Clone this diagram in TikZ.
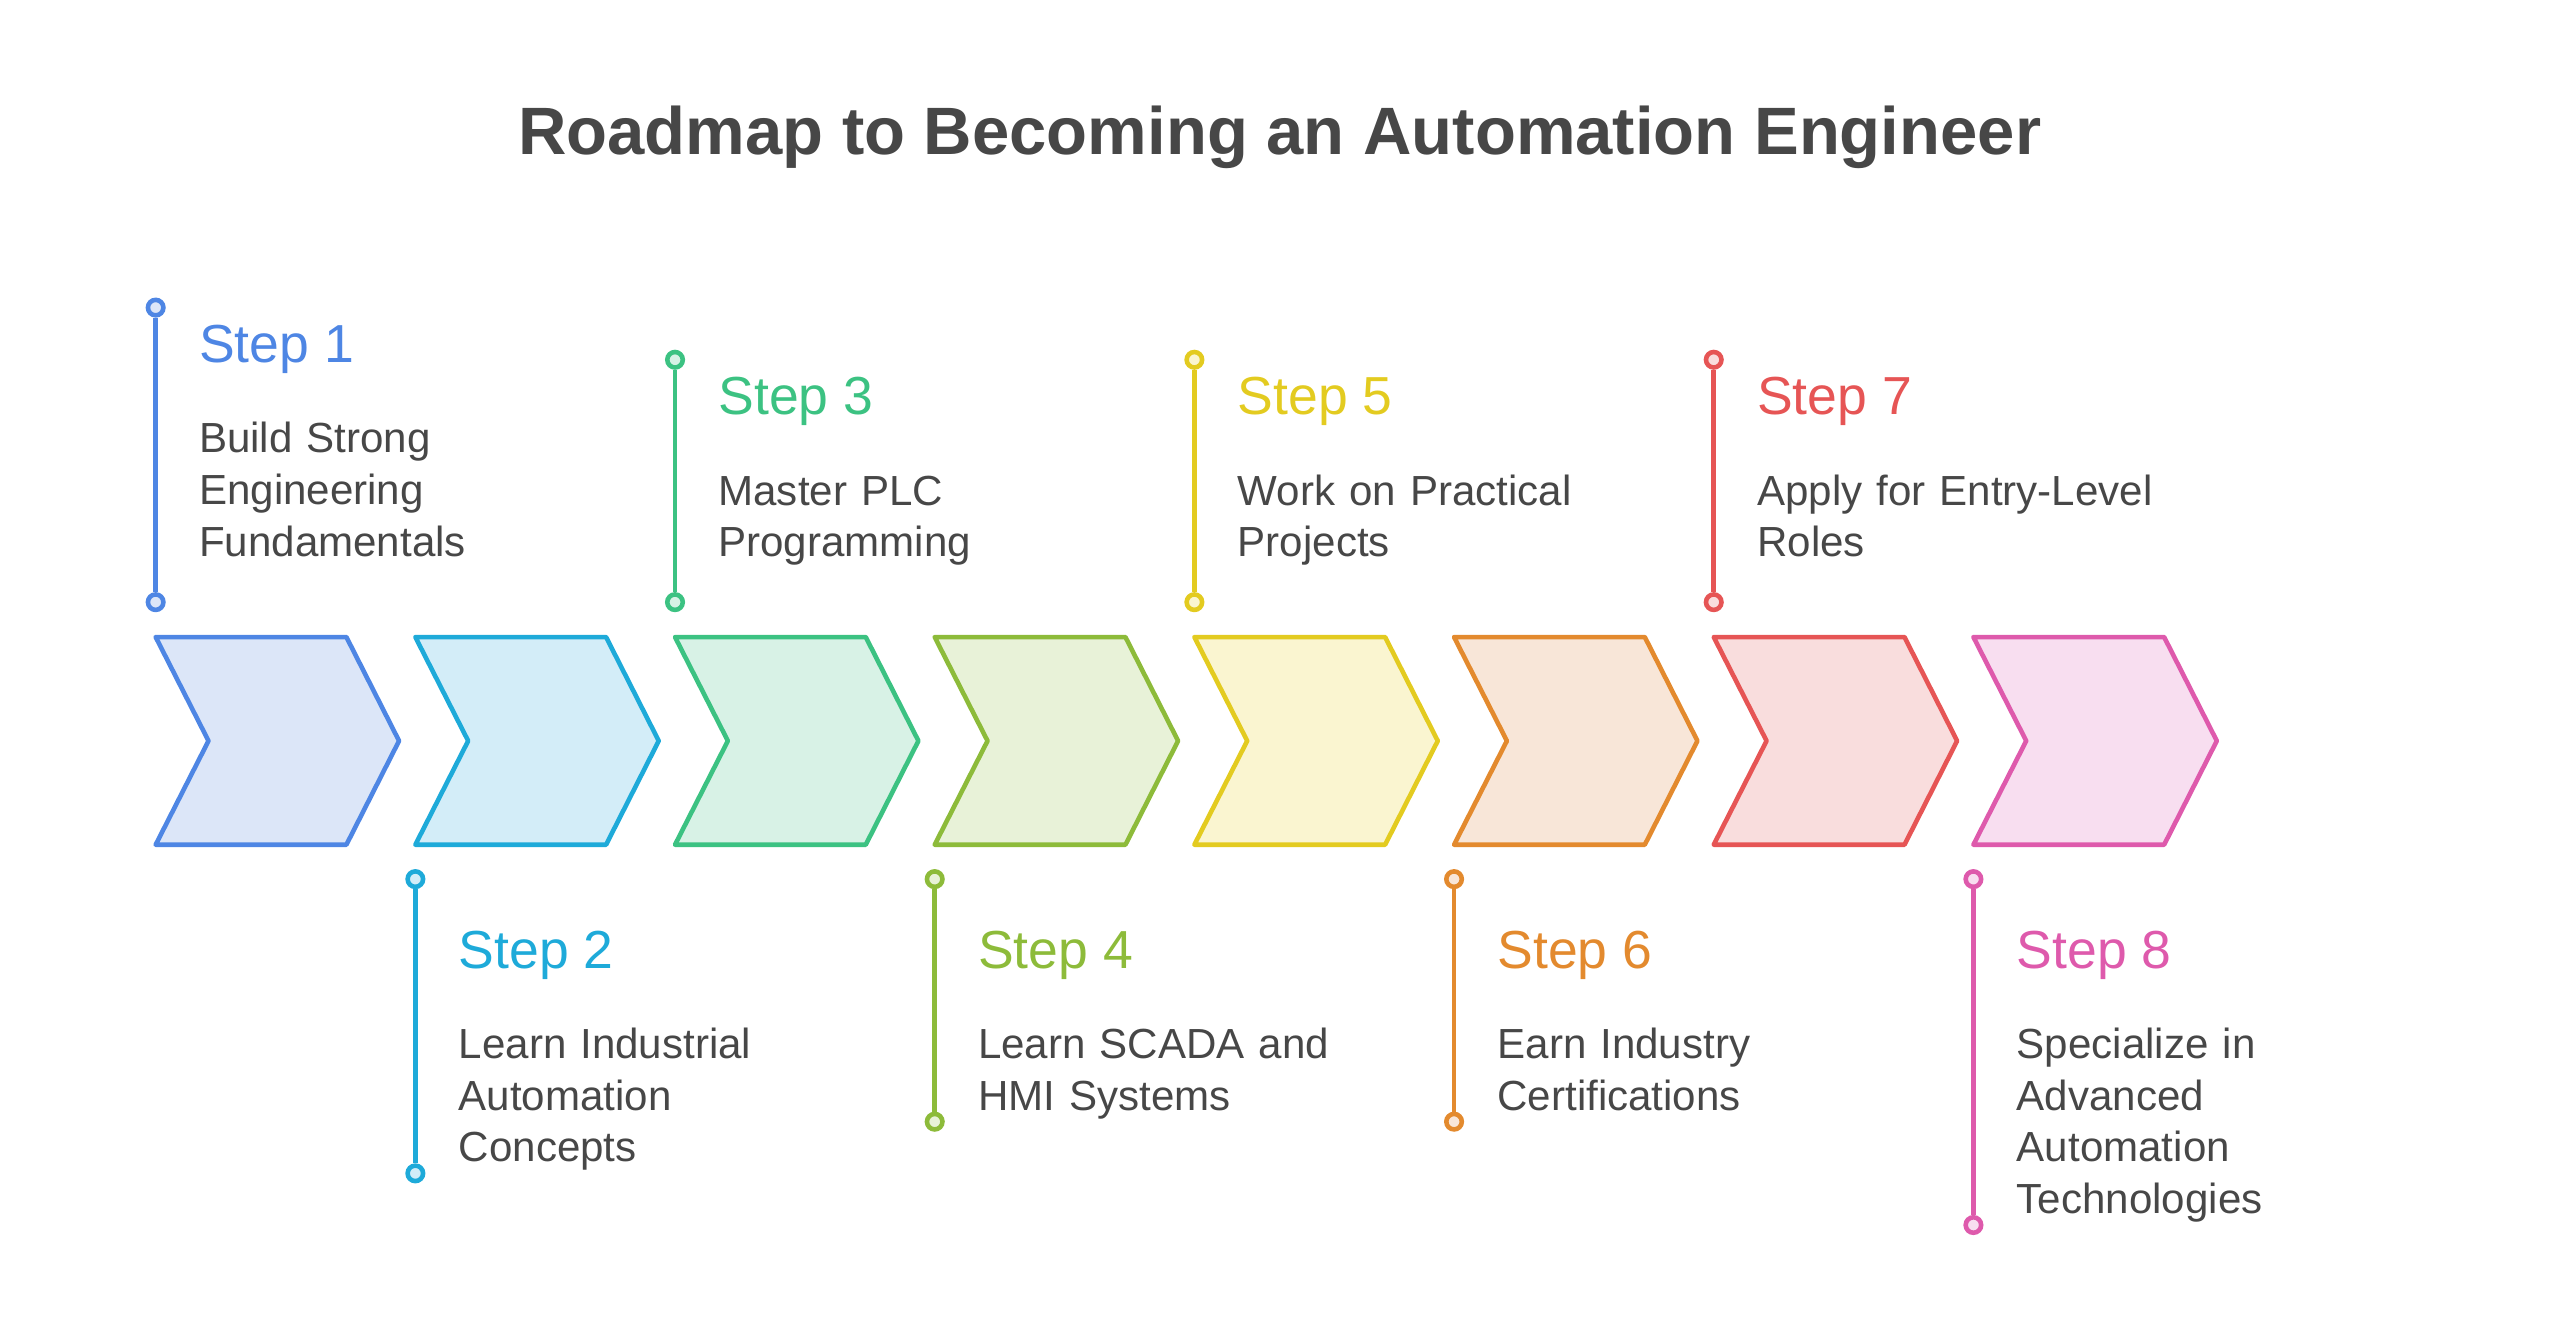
\documentclass[tikz,border=0pt]{standalone}
\usepackage{fontspec}
\setmainfont{Liberation Sans}
\usepackage{xcolor}
\definecolor{ink}{HTML}{474747}
\definecolor{st1}{HTML}{4E86E4}\definecolor{bg1}{HTML}{DCE6F8}
\definecolor{st2}{HTML}{1EAAD9}\definecolor{bg2}{HTML}{D3EDF8}
\definecolor{st3}{HTML}{3CC282}\definecolor{bg3}{HTML}{D8F2E6}
\definecolor{st4}{HTML}{8DBB3A}\definecolor{bg4}{HTML}{E8F2D8}
\definecolor{st5}{HTML}{E3CB20}\definecolor{bg5}{HTML}{FAF5D0}
\definecolor{st6}{HTML}{E38A2E}\definecolor{bg6}{HTML}{F8E6D8}
\definecolor{st7}{HTML}{E65555}\definecolor{bg7}{HTML}{F9DDDD}
\definecolor{st8}{HTML}{DE5AAC}\definecolor{bg8}{HTML}{F8DEF0}
\usepackage{tikz}

\tikzset{
  heading/.style={anchor=base, inner sep=0pt, text=ink, font=\fontsize{23.4}{28}\selectfont\bfseries},
  chevron/.style={line width=1.6pt, line join=round, draw=st#1, fill=bg#1},
  knob/.style={circle, inner sep=0pt, minimum size=0.19cm, line width=1.6pt, draw=st#1, fill=bg#1},
  stem/.style={line width=1.6pt, draw=st#1},
  steptitle/.style={anchor=base west, inner sep=0pt, font=\fontsize{18.7}{22}\selectfont},
  stepbody/.style={anchor=base west, inner sep=0pt, align=left, text width=7cm, text=ink, font=\fontsize{14.7}{18.04}\selectfont}
}

\begin{document}
\begin{tikzpicture}[x=0.02cm, y=-0.02cm]
  \useasboundingbox (0,0) rectangle (1568,814);
  \node[heading] (title) at (785,95) {Roadmap to Becoming an Automation Engineer};

  % chevrons
  \foreach \i in {1,...,8}{
    \pgfmathsetmacro{\xa}{95.5+159.3*(\i-1)}
    \draw[chevron=\i] (\xa,390.8) -- ++(117,0) -- ++(32.3,63.7) -- ++(-32.3,63.7)
      -- ++(-117,0) -- ++(32.4,-63.7) -- cycle;
  }

  % steps above
  \foreach \i/\n/\txt in {1/3/{Build Strong\\Engineering\\Fundamentals},
                          3/2/{Master PLC\\Programming},
                          5/2/{Work on Practical\\Projects},
                          7/2/{Apply for Entry-Level\\Roles}}{
    \pgfmathsetmacro{\xa}{95.5+159.3*(\i-1)}
    \pgfmathsetmacro{\ya}{220.7-32*(\n-2)}
    \node[knob=\i] (top\i) at (\xa,\ya) {};
    \node[knob=\i] (bot\i) at (\xa,369.4) {};
    \draw[stem=\i] (top\i) -- (bot\i);
    \node[steptitle, text=st\i] (head\i) at (\xa+26.3,\ya+33.5) {Step \i};
    \node[stepbody] (body\i) at (\xa+26.3,\ya+89.1) {\txt};
  }

  % steps below
  \foreach \i/\n/\txt in {2/3/{Learn Industrial\\Automation\\Concepts},
                          4/2/{Learn SCADA and\\HMI Systems},
                          6/2/{Earn Industry\\Certifications},
                          8/4/{Specialize in\\Advanced\\Automation\\Technologies}}{
    \pgfmathsetmacro{\xa}{95.5+159.3*(\i-1)}
    \pgfmathsetmacro{\yb}{656.4+31.7*(\n-1)}
    \node[knob=\i] (top\i) at (\xa,539.3) {};
    \node[knob=\i] (bot\i) at (\xa,\yb) {};
    \draw[stem=\i] (top\i) -- (bot\i);
    \node[steptitle, text=st\i] (head\i) at (\xa+26.3,594) {Step \i};
    \node[stepbody] (body\i) at (\xa+26.3,649.4) {\txt};
  }
\end{tikzpicture}
\end{document}
